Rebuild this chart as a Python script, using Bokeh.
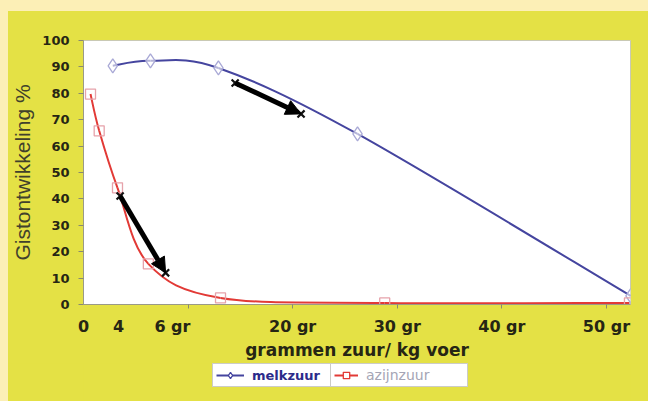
from bokeh.plotting import figure
from bokeh.layouts import column
from bokeh.models import (Range1d, FixedTicker, Legend, LegendItem, Arrow, NormalHead,
                          ColumnDataSource)
from bokeh.embed import file_html
from bokeh.resources import INLINE

# ---------------- data ----------------
melk_x = [2.8, 6.4, 12.9, 26.2, 52.3]
melk_y = [90.4, 92.3, 89.6, 64.6, 3.3]
azijn_x = [0.67, 1.5, 3.25, 6.2, 13.1, 28.8, 52.2]
azijn_y = [79.7, 65.8, 44.2, 15.4, 2.5, 0.6, 0.6]

# measured points marked with X and joined by an arrow
melk_mark_x = [14.5, 20.8]
melk_mark_y = [83.9, 72.2]
azijn_mark_x = [3.5, 7.85]
azijn_mark_y = [41.1, 12.0]

x_tick_pos = [0, 3.35, 8.5, 20, 30, 40, 50]
x_tick_labels = ["0", "4", "6 gr", "20 gr", "30 gr", "40 gr", "50 gr"]
x_minor_ticks = [10, 20, 30, 40, 50]
y_ticks = list(range(0, 101, 10))

series_names = ["melkzuur", "azijnzuur"]

YELLOW = "#e4e145"
CREAM = "#fcefb6"
BLUE = "#45459f"
RED = "#e23a36"
DIAMOND_EDGE = "#a9a9d6"
SQUARE_EDGE = "#e6a2aa"


def smooth_segments(xs, ys):
    """Excel-like smoothed line: cubic Bezier segments through the points
    (Catmull-Rom control points)."""
    n = len(xs)
    seg = dict(x0=[], y0=[], x1=[], y1=[], cx0=[], cy0=[], cx1=[], cy1=[])
    for i in range(n - 1):
        xp, yp = (xs[i - 1], ys[i - 1]) if i > 0 else (xs[i], ys[i])
        xn2, yn2 = (xs[i + 2], ys[i + 2]) if i + 2 < n else (xs[i + 1], ys[i + 1])
        seg["x0"].append(xs[i]); seg["y0"].append(ys[i])
        seg["x1"].append(xs[i + 1]); seg["y1"].append(ys[i + 1])
        seg["cx0"].append(xs[i] + (xs[i + 1] - xp) / 6)
        seg["cy0"].append(ys[i] + (ys[i + 1] - yp) / 6)
        seg["cx1"].append(xs[i + 1] - (xn2 - xs[i]) / 6)
        seg["cy1"].append(ys[i + 1] - (yn2 - ys[i]) / 6)
    return ColumnDataSource(seg)


p = figure(width=640, height=352, output_backend="svg", toolbar_location=None,
           x_range=Range1d(0, 52.3), y_range=Range1d(0, 100),
           min_border_left=75, min_border_right=18, min_border_top=29,
           min_border_bottom=59)
p.background_fill_color = "white"
p.border_fill_color = YELLOW
p.outline_line_color = "#c9c9b4"
p.xgrid.visible = False
p.ygrid.visible = False

# axes
p.xaxis.ticker = FixedTicker(ticks=x_tick_pos, minor_ticks=x_minor_ticks)
p.xaxis.major_label_overrides = {t: l for t, l in zip(x_tick_pos, x_tick_labels)}
p.xaxis.major_tick_out = 0
p.xaxis.major_tick_in = 0
p.xaxis.minor_tick_out = 4
p.xaxis.minor_tick_in = 0
p.xaxis.minor_tick_line_color = "#8a8a70"
p.xaxis.axis_line_color = "#9a9a88"
p.xaxis.major_label_text_font = "DejaVu Sans"
p.xaxis.major_label_text_font_style = "bold"
p.xaxis.major_label_text_font_size = "16px"
p.xaxis.major_label_text_color = "#262614"
p.xaxis.major_label_standoff = 8
p.xaxis.axis_label = "grammen zuur/ kg voer"
p.xaxis.axis_label_text_font = "DejaVu Sans"
p.xaxis.axis_label_text_font_style = "bold"
p.xaxis.axis_label_text_font_size = "17px"
p.xaxis.axis_label_text_color = "#262614"
p.xaxis.axis_label_standoff = 1

p.yaxis.ticker = FixedTicker(ticks=y_ticks)
p.yaxis.major_tick_out = 5
p.yaxis.major_tick_in = 0
p.yaxis.minor_tick_out = 0
p.yaxis.minor_tick_in = 0
p.yaxis.major_tick_line_color = "#8a8a70"
p.yaxis.axis_line_color = "#9a9a88"
p.yaxis.major_label_text_font = "DejaVu Sans"
p.yaxis.major_label_text_font_style = "bold"
p.yaxis.major_label_text_font_size = "13px"
p.yaxis.major_label_text_color = "#262614"
p.yaxis.major_label_standoff = 9
p.yaxis.axis_label = "Gistontwikkeling %"
p.yaxis.axis_label_text_font = "Liberation Sans"
p.yaxis.axis_label_text_font_style = "normal"
p.yaxis.axis_label_text_font_size = "21px"
p.yaxis.axis_label_text_color = "#40402c"
p.yaxis.axis_label_standoff = 5

# smoothed lines
p.bezier(x0="x0", y0="y0", x1="x1", y1="y1", cx0="cx0", cy0="cy0",
         cx1="cx1", cy1="cy1", source=smooth_segments(melk_x, melk_y),
         line_color=BLUE, line_width=2)
p.bezier(x0="x0", y0="y0", x1="x1", y1="y1", cx0="cx0", cy0="cy0",
         cx1="cx1", cy1="cy1", source=smooth_segments(azijn_x, azijn_y),
         line_color=RED, line_width=2)

# markers
p.scatter(melk_x, melk_y, marker="diamond", size=14, line_color=DIAMOND_EDGE,
          fill_color="white", fill_alpha=0.6, line_width=1.3)
p.scatter(azijn_x, azijn_y, marker="square", size=10, line_color=SQUARE_EDGE,
          fill_color="white", fill_alpha=0.0, line_width=1.3)

# arrows between X marks
p.add_layout(Arrow(end=NormalHead(size=15, fill_color="black", line_color="black"),
                   x_start=melk_mark_x[0], y_start=melk_mark_y[0],
                   x_end=melk_mark_x[1], y_end=melk_mark_y[1],
                   line_color="black", line_width=5))
p.add_layout(Arrow(end=NormalHead(size=15, fill_color="black", line_color="black"),
                   x_start=azijn_mark_x[0], y_start=azijn_mark_y[0],
                   x_end=azijn_mark_x[1], y_end=azijn_mark_y[1],
                   line_color="black", line_width=5))

p.scatter(melk_mark_x, melk_mark_y, marker="x", size=10, line_color="#111111", line_width=2.2)
p.scatter(azijn_mark_x, azijn_mark_y, marker="x", size=10, line_color="#111111", line_width=2.2)

# ---------------- legend strip (a second, axis-less figure) ----------------
lf = figure(width=640, height=38, output_backend="svg", toolbar_location=None,
            x_axis_type=None, y_axis_type=None, min_border=0,
            x_range=Range1d(0, 52.3), y_range=Range1d(200, 300))
lf.background_fill_color = YELLOW
lf.border_fill_color = YELLOW
lf.outline_line_color = None
lf.xgrid.visible = False
lf.ygrid.visible = False

# same series, drawn outside the strip's visible range: they only feed the legend
lm_line = lf.line(melk_x, melk_y, line_color=BLUE, line_width=2)
lm_pts = lf.scatter(melk_x, melk_y, marker="diamond", size=12, line_color=BLUE,
                    fill_color="white", line_width=1.3)
la_line = lf.line(azijn_x, azijn_y, line_color=RED, line_width=2)
la_pts = lf.scatter(azijn_x, azijn_y, marker="square", size=9, line_color=RED,
                    fill_color="white", line_width=1.3)

common = dict(orientation="horizontal", glyph_height=16, label_standoff=8, padding=3,
              margin=0, label_text_font="DejaVu Sans", border_line_color="#9a9a90",
              background_fill_color="white", background_fill_alpha=1.0, label_height=16)
leg1 = Legend(items=[LegendItem(label=series_names[0], renderers=[lm_line, lm_pts])],
              location=(129, 14), glyph_width=28, label_text_font_style="bold",
              label_text_font_size="13px", label_text_color="#2b2b8a",
              label_width=76, **common)
leg2 = Legend(items=[LegendItem(label=series_names[1], renderers=[la_line, la_pts])],
              location=(247, 14), glyph_width=24, label_text_font_style="normal",
              label_text_font_size="14px", label_text_color="#a5a5b5",
              label_width=98, **common)
lf.add_layout(leg1, "center")
lf.add_layout(leg2, "center")

page = column(p, lf, spacing=0)

html = file_html(page, INLINE)
css = ("<style>html,body{background:linear-gradient(to right,%s 8px,transparent 8px),"
       "linear-gradient(to bottom,%s 11px,%s 11px) !important;}"
       "body{padding:11px 0 0 8px !important;}</style>" % (CREAM, CREAM, YELLOW))
html = html.replace("</head>", css + "</head>", 1)
open("out.html", "w").write(html)
